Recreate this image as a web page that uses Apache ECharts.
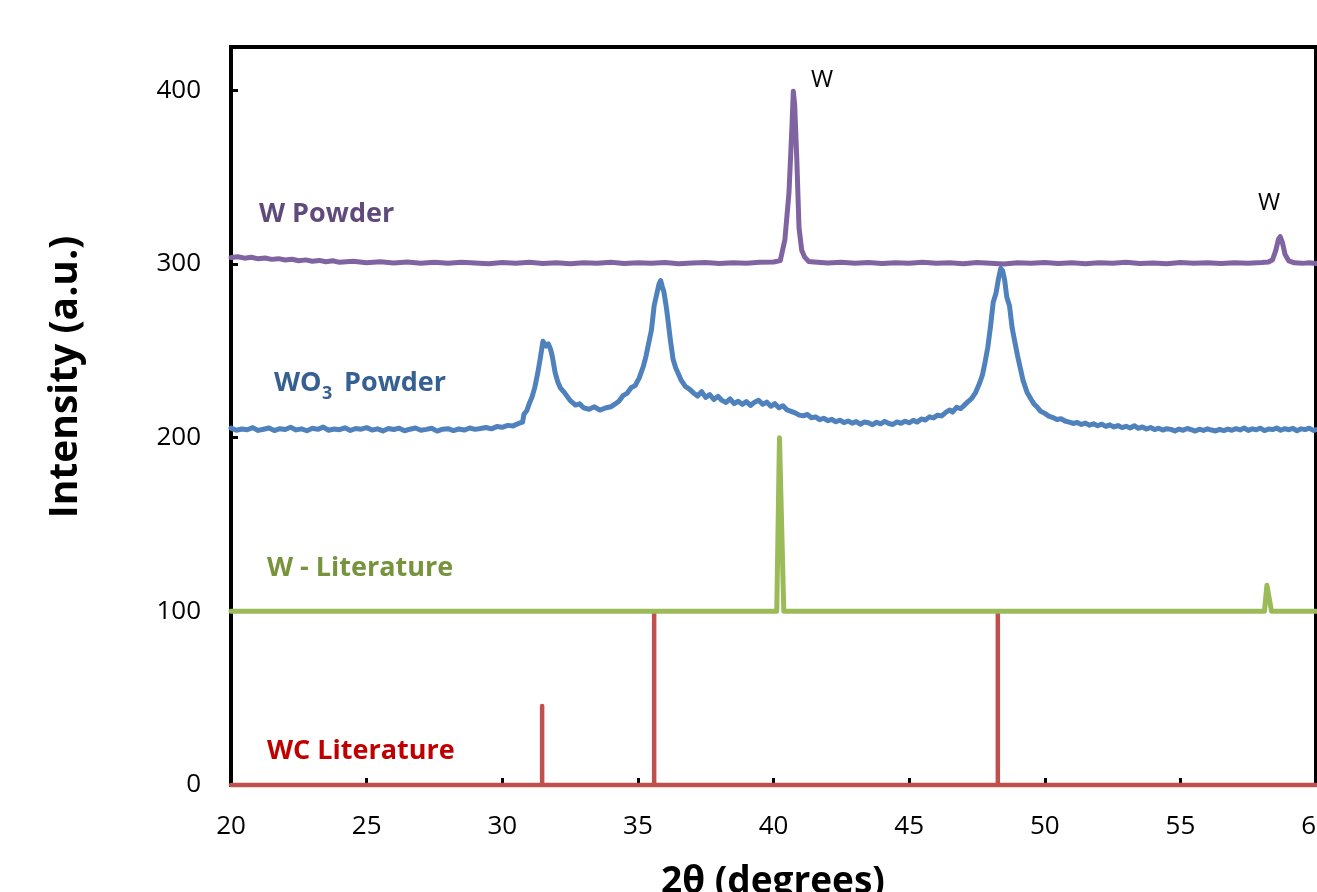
<!DOCTYPE html>
<html>
<head>
<meta charset="utf-8">
<script src="https://cdn.jsdelivr.net/npm/echarts@6/dist/echarts.min.js"></script>
<style>
html,body{margin:0;padding:0;background:#fff;overflow:hidden;}
#chart{width:1317px;height:892px;}
</style>
</head>
<body>
<div id="chart"></div>
<script>
// ---- Data ----
var xTicks = [20, 25, 30, 35, 40, 45, 50, 55, 60];
var yTicks = [0, 100, 200, 300, 400];

var wcLiterature = [
  [20,0],[31.47,0],[31.47,45.5],[31.47,0],[35.6,0],[35.6,100],[35.6,0],
  [48.27,0],[48.27,100],[48.27,0],[60,0]
];

var wLiterature = [
  [20,100],[40.12,100],[40.22,200],[40.28,200],[40.38,100],
  [58.1,100],[58.19,115],[58.26,115],[58.36,100],[60,100]
];

var wPowder = [
  [20.0,303.8],[20.25,304.2],[20.5,303.4],[20.75,303.9],[21.0,303.0],[21.25,303.5],[21.5,302.7],[21.75,303.1],
  [22.0,302.3],[22.25,302.8],[22.5,301.9],[22.75,302.4],[23.0,301.6],[23.25,302.1],[23.5,301.3],[23.75,301.9],
  [24.0,301.0],[24.5,301.6],[25.0,300.8],[25.5,301.3],[26.0,300.6],[26.5,301.2],[27.0,300.5],[27.5,301.0],
  [28.0,300.4],[28.5,301.1],[29.0,300.6],[29.5,300.2],[30.0,300.9],[30.5,300.4],[31.0,301.0],[31.5,300.3],
  [32.0,300.8],[32.5,300.2],[33.0,300.7],[33.5,300.5],[34.0,301.0],[34.5,300.3],[35.0,300.8],[35.5,300.4],
  [36.0,300.9],[36.5,300.2],[37.0,300.6],[37.5,300.9],[38.0,300.3],[38.5,300.7],[39.0,300.5],[39.5,301.0],
  [40.0,301.2],[40.25,302.0],[40.42,314.0],[40.57,341.0],[40.68,379.0],[40.73,399.5],[40.78,392.0],
  [40.86,360.0],[40.94,321.0],[41.04,308.0],[41.15,304.0],[41.3,301.5],[41.5,301.2],[42.0,300.6],
  [42.5,301.0],[43.0,300.4],[43.5,300.9],[44.0,300.3],[44.5,300.8],[45.0,300.5],[45.5,301.0],[46.0,300.4],
  [46.5,300.7],[47.0,300.2],[47.5,300.9],[48.0,300.5],[48.5,300.1],[49.0,300.8],[49.5,300.4],[50.0,300.9],
  [50.5,300.3],[51.0,300.7],[51.5,300.2],[52.0,300.8],[52.5,300.4],[53.0,301.0],[53.5,300.3],[54.0,300.6],
  [54.5,300.2],[55.0,300.9],[55.5,300.4],[56.0,300.7],[56.5,300.3],[57.0,300.8],[57.5,300.5],[58.0,300.9],
  [58.25,301.2],[58.4,302.5],[58.52,308.0],[58.62,314.5],[58.68,315.8],[58.76,312.5],[58.86,305.5],
  [59.0,301.8],[59.2,300.7],[59.5,300.4],[59.75,300.8],[60.0,300.3]
];

var wo3Powder = [
  [20.0,205.5],[20.2,204.3],[20.4,205.0],[20.6,204.6],[20.8,205.8],[21.0,204.2],[21.2,204.9],[21.4,205.6],
  [21.6,204.1],[21.8,205.2],[22.0,204.7],[22.2,206.0],[22.4,204.5],[22.6,205.1],[22.8,204.0],[23.0,205.4],
  [23.2,204.8],[23.4,206.1],[23.6,204.3],[23.8,205.0],[24.0,204.6],[24.2,205.7],[24.4,204.2],[24.6,205.3],
  [24.8,204.9],[25.0,205.8],[25.2,204.4],[25.4,205.1],[25.6,203.9],[25.8,205.3],[26.0,204.7],[26.2,205.5],
  [26.4,204.0],[26.6,204.9],[26.8,205.6],[27.0,204.3],[27.2,204.8],[27.4,205.4],[27.6,203.8],[27.8,204.9],
  [28.0,205.2],[28.2,204.1],[28.4,205.0],[28.6,204.4],[28.8,205.6],[29.0,204.8],[29.2,205.3],[29.4,205.9],
  [29.6,205.1],[29.8,206.4],[30.0,206.0],[30.2,207.1],[30.4,206.8],[30.6,208.2],[30.75,209.0],[30.8,213.5],
  [30.9,215.5],[31.0,219.8],[31.1,223.5],[31.2,229.0],[31.3,236.5],[31.4,245.5],[31.5,255.5],[31.55,255.0],
  [31.62,252.8],[31.7,254.0],[31.78,251.0],[31.85,246.5],[31.95,237.5],[32.05,232.0],[32.15,228.5],
  [32.3,225.8],[32.5,221.5],[32.7,218.8],[32.85,219.5],[33.0,217.2],[33.2,216.4],[33.4,217.8],[33.6,215.9],
  [33.8,217.1],[34.0,217.8],[34.15,219.3],[34.3,221.0],[34.45,224.2],[34.6,225.5],[34.75,228.8],[34.9,230.0],
  [35.05,234.5],[35.2,241.0],[35.3,247.0],[35.4,254.5],[35.5,262.0],[35.6,276.0],[35.7,283.0],[35.78,288.5],
  [35.84,290.5],[35.9,287.0],[35.96,284.0],[36.05,275.0],[36.12,266.5],[36.2,256.0],[36.3,245.0],[36.4,240.0],
  [36.5,236.5],[36.6,233.0],[36.75,229.5],[36.9,228.0],[37.05,225.8],[37.2,224.0],[37.35,226.5],[37.5,223.2],
  [37.65,224.8],[37.8,222.0],[37.95,223.8],[38.1,221.5],[38.25,220.3],[38.4,222.4],[38.55,219.6],[38.7,221.0],
  [38.85,219.2],[39.0,220.8],[39.15,218.6],[39.3,220.4],[39.45,221.6],[39.6,219.2],[39.75,220.5],[39.9,218.1],
  [40.05,219.6],[40.2,217.2],[40.35,218.4],[40.5,216.0],[40.65,215.2],[40.8,214.3],[40.95,213.0],[41.1,212.6],
  [41.25,213.4],[41.4,211.5],[41.55,212.0],[41.7,210.4],[41.85,211.2],[42.0,209.8],[42.15,210.6],[42.3,209.2],
  [42.45,210.1],[42.6,208.7],[42.75,209.6],[42.9,208.4],[43.05,209.3],[43.2,207.8],[43.35,209.0],[43.5,208.6],
  [43.65,207.5],[43.8,208.9],[43.95,208.0],[44.1,209.4],[44.25,208.2],[44.4,207.6],[44.55,209.1],[44.7,208.3],
  [44.85,209.5],[45.0,208.6],[45.15,210.0],[45.3,209.0],[45.45,210.8],[45.6,210.2],[45.75,212.0],[45.9,211.4],
  [46.05,213.0],[46.2,212.5],[46.35,214.6],[46.5,216.0],[46.6,214.8],[46.75,217.5],[46.9,216.8],[47.0,218.2],
  [47.15,220.5],[47.3,222.5],[47.45,226.0],[47.6,231.5],[47.7,236.0],[47.8,243.5],[47.9,252.0],[48.0,264.0],
  [48.1,278.0],[48.2,283.0],[48.3,292.0],[48.38,297.5],[48.45,296.0],[48.52,291.0],[48.6,281.0],[48.7,276.0],
  [48.8,263.0],[48.9,255.0],[49.0,247.0],[49.1,240.0],[49.2,233.0],[49.35,226.0],[49.5,222.0],[49.6,219.5],
  [49.7,218.0],[49.85,215.2],[50.0,214.0],[50.15,212.4],[50.3,211.6],[50.45,210.5],[50.6,210.9],[50.75,209.6],
  [50.9,209.0],[51.05,208.2],[51.2,208.8],[51.35,207.6],[51.5,208.4],[51.65,207.2],[51.8,208.0],[51.95,206.9],
  [52.1,207.8],[52.25,206.5],[52.4,207.4],[52.55,206.2],[52.7,207.0],[52.85,205.8],[53.0,206.6],[53.15,205.6],
  [53.3,206.9],[53.45,205.4],[53.6,206.2],[53.75,205.0],[53.9,205.9],[54.05,204.7],[54.2,205.5],[54.35,204.4],
  [54.5,205.2],[54.65,204.8],[54.8,203.9],[54.95,205.0],[55.1,204.3],[55.25,205.3],[55.4,204.6],[55.55,203.8],
  [55.7,204.9],[55.85,204.2],[56.0,205.1],[56.15,204.4],[56.3,203.9],[56.45,204.8],[56.6,204.1],[56.75,205.0],
  [56.9,204.3],[57.05,205.2],[57.2,204.5],[57.35,205.6],[57.5,204.2],[57.65,205.1],[57.8,204.6],[57.95,205.5],
  [58.1,204.1],[58.25,205.0],[58.4,204.7],[58.55,205.6],[58.7,204.3],[58.85,205.2],[59.0,204.6],[59.15,205.4],
  [59.3,204.0],[59.45,205.1],[59.6,204.7],[59.75,205.5],[59.9,204.2],[60.0,204.6]
];

// ---- Chart ----
var FONT = "'Open Sans', 'Noto Sans', sans-serif";
var chart = echarts.init(document.getElementById('chart'), null, {renderer: 'canvas'});

function lineSeries(name, data, color, width) {
  return {
    name: name, type: 'line', data: data, showSymbol: false, symbol: 'none',
    animation: false, smooth: false, clip: false,
    lineStyle: {color: color, width: width, cap: 'round', join: 'round'}
  };
}

function label(text, x, y, color, size, weight) {
  return {
    type: 'text', x: x, y: y, z: 100,
    style: {
      text: text, fill: color, textAlign: 'left', textVerticalAlign: 'middle',
      font: (weight || 'bold') + ' ' + size + 'px ' + FONT
    }
  };
}

var option = {
  backgroundColor: '#ffffff',
  animation: false,
  grid: {
    left: 231, top: 47, right: 1, bottom: 107,
    containLabel: false, outerBoundsMode: 'none',
    show: true, borderColor: '#000', borderWidth: 4, backgroundColor: 'transparent'
  },
  xAxis: {
    type: 'value', min: 20, max: 60, interval: 5,
    axisLine: {show: true, onZero: false, lineStyle: {color: '#000', width: 3}},
    axisTick: {show: true, inside: true, length: 7, lineStyle: {color: '#000', width: 3}},
    axisLabel: {
      margin: 29, color: '#000', fontSize: 26, fontFamily: FONT, hideOverlap: false,
      formatter: function (v) { return xTicks.indexOf(v) >= 0 ? String(v) : ''; }
    },
    splitLine: {show: false}
  },
  yAxis: {
    type: 'value', min: 0, max: 425, interval: 100,
    axisLine: {show: true, onZero: false, lineStyle: {color: '#000', width: 3}},
    axisTick: {show: true, inside: true, length: 7, lineStyle: {color: '#000', width: 3}},
    axisLabel: {
      margin: 30, color: '#000', fontSize: 26, fontFamily: FONT, showMaxLabel: false,
      formatter: function (v) { return yTicks.indexOf(v) >= 0 ? String(v) : ''; }
    },
    splitLine: {show: false}
  },
  series: [
    lineSeries('WC Literature', wcLiterature, '#C0504D', 4.5),
    lineSeries('W - Literature', wLiterature, '#9BBB59', 5),
    lineSeries('W Powder', wPowder, '#8064A2', 5),
    lineSeries('WO3 Powder', wo3Powder, '#4F81BD', 5)
  ],
  graphic: [
    label('W Powder', 259, 214, '#604A7B', 27),
    label('WO', 274, 383, '#366092', 27),
    label('3', 322, 394, '#366092', 18),
    label('Powder', 344, 383, '#366092', 27),
    label('W - Literature', 267, 568, '#77933C', 27),
    label('WC Literature', 267, 751, '#C00000', 27),
    {
      type: 'text', x: 822, y: 80, z: 100,
      style: {text: 'W', fill: '#000', textAlign: 'center', textVerticalAlign: 'middle', font: 'normal 24px ' + FONT}
    },
    {
      type: 'text', x: 1269, y: 203, z: 100,
      style: {text: 'W', fill: '#000', textAlign: 'center', textVerticalAlign: 'middle', font: 'normal 24px ' + FONT}
    },
    {
      type: 'text', x: 66, y: 377, rotation: Math.PI / 2, z: 100,
      style: {text: 'Intensity (a.u.)', fill: '#000', textAlign: 'center', textVerticalAlign: 'middle', font: 'bold 39px ' + FONT}
    },
    {
      type: 'text', x: 773, y: 882, z: 100,
      style: {text: '2θ (degrees)', fill: '#000', textAlign: 'center', textVerticalAlign: 'middle', font: 'bold 37px ' + FONT}
    }
  ]
};
chart.setOption(option);
</script>
</body>
</html>
